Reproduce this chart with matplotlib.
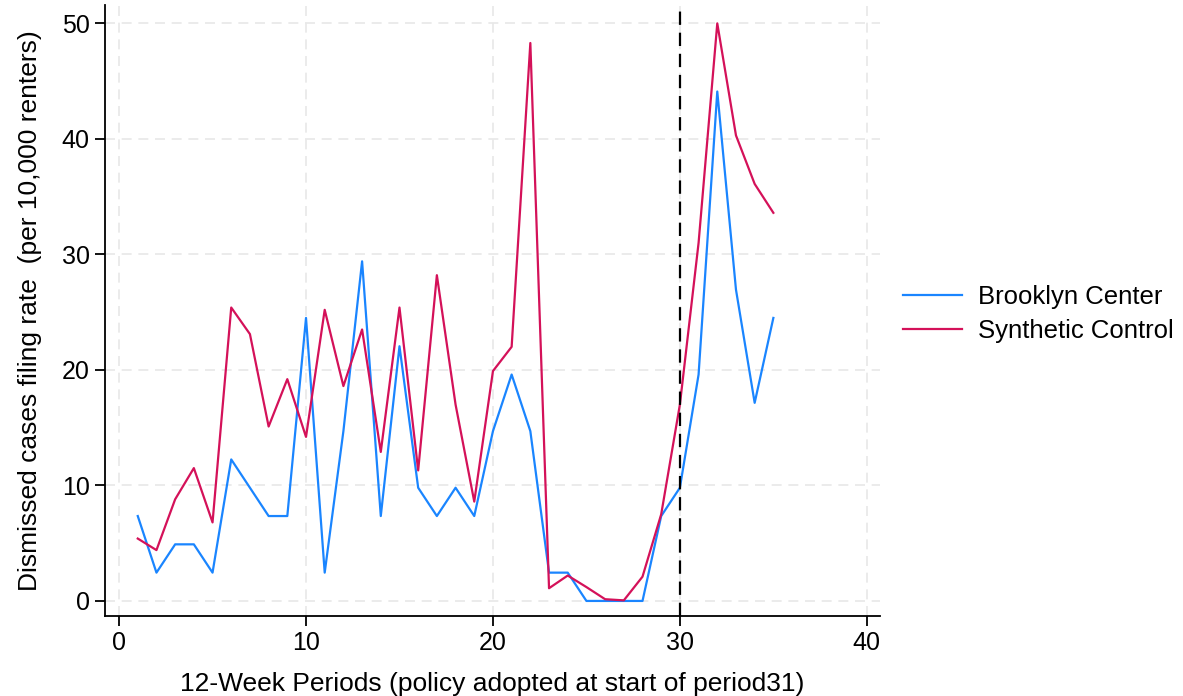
import matplotlib
matplotlib.use("Agg")
import matplotlib.pyplot as plt

plt.rcParams['font.family'] = ['Liberation Sans', 'DejaVu Sans']

periods = list(range(1, 36))
brooklyn = [7.35, 2.45, 4.9, 4.9, 2.45, 12.25, 9.8, 7.35, 7.35, 24.5,
            2.45, 14.7, 29.4, 7.35, 22.05, 9.8, 7.35, 9.8, 7.35, 14.7,
            19.6, 14.7, 2.45, 2.45, 0.0, 0.0, 0.0, 0.0, 7.35, 9.8,
            19.6, 44.1, 26.95, 17.15, 24.5]
synthetic = [5.4, 4.4, 8.8, 11.5, 6.8, 25.4, 23.1, 15.1, 19.2, 14.2,
             25.2, 18.6, 23.5, 12.9, 25.4, 11.3, 28.2, 17.0, 8.6, 19.9,
             22.0, 48.3, 1.1, 2.2, 1.2, 0.15, 0.05, 2.1, 7.5, 17.0,
             31.0, 50.0, 40.3, 36.1, 33.6]
policy_period = 30

fig = plt.figure(figsize=(11.83, 6.96), dpi=100)
ax = fig.add_axes([0.0888, 0.115, 0.655, 0.878])

ax.plot(periods, brooklyn, color='#1a85ff', lw=1.6, label='Brooklyn Center')
ax.plot(periods, synthetic, color='#d41159', lw=1.6, label='Synthetic Control')
ax.axvline(policy_period, color='black', lw=1.6, ls=(0, (6, 3.5)))

ax.set_xlim(-0.75, 40.7)
ax.set_ylim(-1.3, 51.6)
ax.set_xticks([0, 10, 20, 30, 40])
ax.set_yticks([0, 10, 20, 30, 40, 50])
ax.grid(True, color='#e8e8e8', lw=1.2, ls=(0, (6, 4)))
ax.set_axisbelow(True)

for s in ['top', 'right']:
    ax.spines[s].set_visible(False)
for s in ['left', 'bottom']:
    ax.spines[s].set_linewidth(1.3)
ax.tick_params(labelsize=18, length=7, width=1.3, pad=4)

ax.set_xlabel('12-Week Periods (policy adopted at start of period31)', fontsize=19, labelpad=12)
ax.set_ylabel('Dismissed cases filing rate  (per 10,000 renters)', fontsize=19, labelpad=14)

fig.legend(loc='center left', bbox_to_anchor=(903 / 1183, 1 - 314 / 696), frameon=False,
           fontsize=18.5, handlelength=2.3, handletextpad=0.62, labelspacing=0.38,
           borderpad=0, borderaxespad=0)

fig.savefig('out.png', dpi=100)
